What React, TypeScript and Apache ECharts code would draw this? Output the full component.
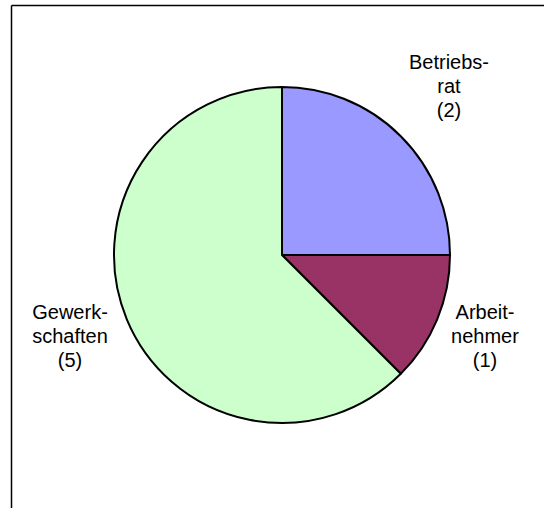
import React, { useEffect, useRef } from "react";
import * as echarts from "echarts";

const categories = ["Betriebsrat", "Arbeitnehmer", "Gewerkschaften"];
const labelTexts = ["Betriebs-\nrat", "Arbeit-\nnehmer", "Gewerk-\nschaften"];
const values = [2, 1, 5];
const colors = ["#9999FF", "#993366", "#CCFFCC"];

// label anchor points (layout only)
const labelAnchors = [
  [449, 86],
  [485, 336],
  [70, 336],
];

export default function App() {
  const ref = useRef<HTMLDivElement>(null);
  useEffect(() => {
    document.body.style.margin = "0";
    const chart = echarts.init(ref.current!, null, { renderer: "svg" });
    chart.setOption({
      animation: false,
      backgroundColor: "#ffffff",
      graphic: [
        {
          type: "line",
          shape: { x1: 11.5, y1: 5.5, x2: 544, y2: 5.5 },
          style: { stroke: "#000", lineWidth: 1.5 },
        },
        {
          type: "line",
          shape: { x1: 11.5, y1: 5.5, x2: 11.5, y2: 508 },
          style: { stroke: "#000", lineWidth: 1.5 },
        },
      ],
      series: [
        {
          type: "pie",
          center: [282, 255],
          radius: 168,
          startAngle: 90,
          clockwise: true,
          silent: true,
          itemStyle: { borderColor: "#000", borderWidth: 2 },
          label: {
            show: true,
            position: "outside",
            color: "#000",
            fontFamily: "Liberation Sans, Arial, sans-serif",
            fontSize: 20,
            lineHeight: 24,
            align: "center",
            overflow: "none",
            width: 200,
            formatter: (p: any) => `${labelTexts[p.dataIndex]}\n(${p.value})`,
          },
          labelLine: { show: false },
          labelLayout: (p: any) => ({
            x: labelAnchors[p.dataIndex][0],
            y: labelAnchors[p.dataIndex][1],
            align: "center",
            verticalAlign: "middle",
          }),
          data: categories.map((c, i) => ({
            name: c,
            value: values[i],
            itemStyle: { color: colors[i] },
          })),
        },
      ],
    });
    return () => chart.dispose();
  }, []);
  return <div ref={ref} style={{ width: 544, height: 508 }} />;
}
